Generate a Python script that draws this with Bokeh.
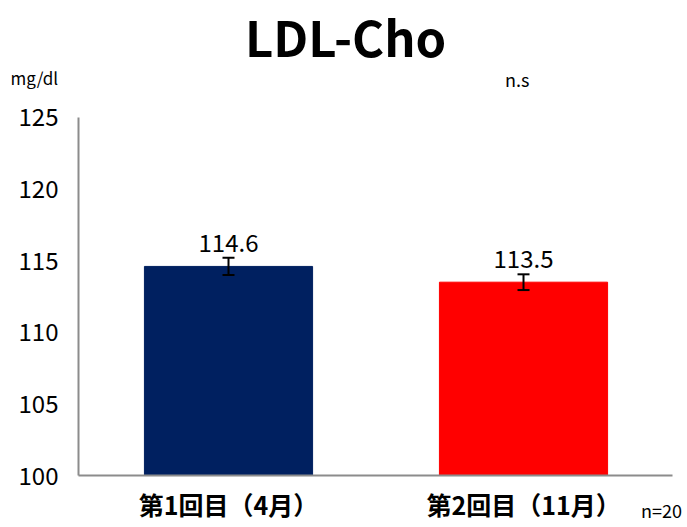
from bokeh.plotting import figure
from bokeh.models import ColumnDataSource, Whisker, TeeHead, FixedTicker, Range1d
from bokeh.embed import file_html
from bokeh.resources import INLINE
from bokeh.core.properties import value

categories = ["第1回目（4月）", "第2回目（11月）"]
positions = [1, 2]
means = [114.6, 113.5]
errors = [0.6, 0.55]
colors = ["#002060", "#FF0000"]
y_ticks = [100, 105, 110, 115, 120, 125]
title_text = "LDL-Cho"
unit_text = "mg/dl"
sig_text = "n.s"
n_text = "n=20"

FONT = "Noto Sans CJK JP"

src = ColumnDataSource(dict(
    x=positions, mean=means, color=colors,
    upper=[m + e for m, e in zip(means, errors)],
    lower=[m - e for m, e in zip(means, errors)],
    label=[f"{m:.1f}" for m in means],
))

p = figure(width=687, height=527, output_backend="svg", toolbar_location=None,
           x_range=Range1d(0.2271, 2.5559), y_range=Range1d(96.37, 133.17),
           min_border_left=0, min_border_right=0, min_border_top=0, min_border_bottom=0)
p.outline_line_color = None
p.background_fill_color = "white"
p.grid.visible = False

p.vbar(x="x", top="mean", bottom=100, width=0.57, color="color", source=src)
w = Whisker(base="x", upper="upper", lower="lower", source=src, line_color="black", line_width=2,
            level="overlay",
            upper_head=TeeHead(size=12, line_color="black", line_width=2),
            lower_head=TeeHead(size=12, line_color="black", line_width=2))
p.add_layout(w)
p.text(x="x", y="upper", text="label", source=src, text_align="center", text_baseline="bottom",
       y_offset=-6, text_font=value(FONT), text_font_size="24px", text_color="black")

# y axis
p.yaxis.fixed_location = 0.4915
p.yaxis.bounds = (100, 125)
p.yaxis.ticker = FixedTicker(ticks=y_ticks)
p.yaxis.major_tick_line_color = None
p.yaxis.minor_tick_line_color = None
p.yaxis.axis_line_color = "#8c8c8c"
p.yaxis.axis_line_width = 2
p.yaxis.major_label_text_font = FONT
p.yaxis.major_label_text_font_size = "24px"
p.yaxis.major_label_text_color = "black"
p.yaxis.major_label_standoff = 14

# x axis
p.xaxis.fixed_location = 100
p.xaxis.bounds = (0.4915, 2.505)
p.xaxis.ticker = FixedTicker(ticks=positions)
p.xaxis.major_label_overrides = {pos: cat for pos, cat in zip(positions, categories)}
p.xaxis.major_tick_line_color = None
p.xaxis.minor_tick_line_color = None
p.xaxis.axis_line_color = "#8c8c8c"
p.xaxis.axis_line_width = 2
p.xaxis.major_label_text_font = FONT
p.xaxis.major_label_text_font_size = "25px"
p.xaxis.major_label_text_font_style = "bold"
p.xaxis.major_label_text_color = "black"
p.xaxis.major_label_standoff = 4

# texts
p.text(x=[1.397], y=[130.7], text=[title_text], text_align="center", text_baseline="middle",
       text_font=value(FONT), text_font_size="49px", text_font_style="bold", text_color="black")
p.text(x=[0.2611], y=[127.8], text=[unit_text], text_align="left", text_baseline="middle",
       text_font=value(FONT), text_font_size="17px", text_color="black")
p.text(x=[1.9783], y=[127.7], text=[sig_text], text_align="center", text_baseline="middle",
       text_font=value(FONT), text_font_size="18px", text_color="black")
p.text(x=[2.3983], y=[97.6], text=[n_text], text_align="left", text_baseline="middle",
       text_font=value(FONT), text_font_size="18px", text_color="black")

open("out.html", "w").write(file_html(p, INLINE))
